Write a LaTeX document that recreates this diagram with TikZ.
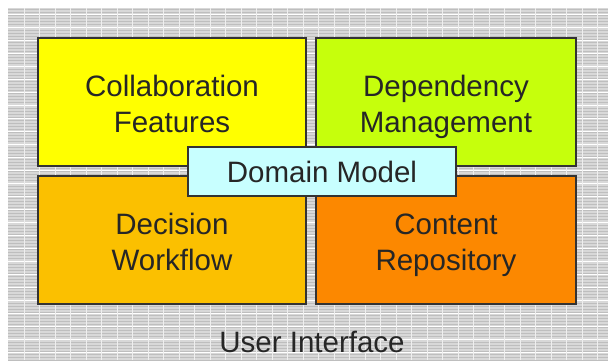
\documentclass[tikz,border=0pt]{standalone}
\usepackage{fontspec}
\setmainfont{Liberation Sans}
\newcommand{\tlineA}[1]{\rule{0pt}{30.5pt}\vphantom{Agy}#1}
\newcommand{\tlineB}[1]{\vphantom{Agy}#1}
\begin{document}
\begin{tikzpicture}[x=1pt,y=-1pt,
  blk/.style={draw=black!80,line width=1.3pt,inner sep=0pt,text=black!85,align=center,
    font=\fontsize{29.5}{36}\selectfont},
  lbl/.style={text=black!85,font=\fontsize{29.5}{36}\selectfont,inner sep=0pt}]
\definecolor{cyel}{HTML}{FFFF00}
\definecolor{clime}{HTML}{C6FF0C}
\definecolor{corg}{HTML}{FBC000}
\definecolor{cdark}{HTML}{FC8800}
\definecolor{ccyan}{HTML}{C8FFFF}
\definecolor{bgA}{HTML}{D8D8D8}
\definecolor{bgB}{HTML}{BEBEBE}
\useasboundingbox (0,0) rectangle (608,360);
\fill[white] (0,0) rectangle (608,360);
% textured background
\fill[bgA] (8,8) rectangle (608,360);
\foreach \y in {9,12,...,360} \draw[bgB,line width=0.6pt] (8,\y) -- (608,\y);
\foreach \y in {14,27,...,360} \draw[white,line width=1pt] (8,\y) -- (608,\y);
\foreach \x in {24,39.5,...,608} \draw[white!60!bgA,line width=0.6pt] (\x,8) -- (\x,360);
% blocks
\node[blk,fill=cyel,minimum width=268pt,minimum height=128pt] (collab) at (172,102) {\tlineA{Collaboration}\\\tlineB{Features}};
\node[blk,fill=clime,minimum width=260pt,minimum height=128pt] (dep) at (446,102) {\tlineA{Dependency}\\\tlineB{Management}};
\node[blk,fill=corg,minimum width=268pt,minimum height=128pt] (dec) at (172,240) {\tlineA{Decision}\\\tlineB{Workflow}};
\node[blk,fill=cdark,minimum width=260pt,minimum height=128pt] (cont) at (446,240) {\tlineA{Content}\\\tlineB{Repository}};
\node[blk,fill=ccyan,minimum width=268pt,minimum height=49pt] (dom) at (322,171.5) {Domain Model};
\node[lbl] (ui) at (312,342) {User Interface};
\end{tikzpicture}
\end{document}
